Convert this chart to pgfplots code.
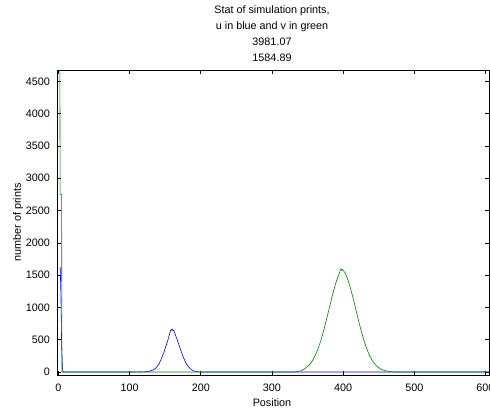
\documentclass[border=0pt]{standalone}
\usepackage{pgfplots}
\pgfplotsset{compat=1.18}
\usepackage{fontspec}
\setmainfont{Liberation Sans}
\definecolor{mgreen}{RGB}{0,128,0}
\definecolor{mblue}{RGB}{0,0,255}
\begin{document}
\begin{tikzpicture}[font=\fontsize{10.8}{13}\selectfont]
\useasboundingbox (-57pt,-37pt) rectangle (433pt,375pt);
\begin{axis}[
  at={(0pt,0pt)}, anchor=south west,
  scale only axis, width=432pt, height=305pt,
  xmin=-2, xmax=605, ymin=-46, ymax=4675,
  xtick={0,100,...,600}, ytick={0,500,...,4500},
  tick pos=both, tick align=inside, major tick length=4pt,
  axis line style={line width=0.7pt, black},
  every tick/.style={black, line width=0.6pt},
  /pgf/number format/assume math mode=true,
  /pgf/number format/1000 sep={},
  xticklabel style={anchor=base, inner sep=0pt, yshift=-17pt},
  yticklabel style={anchor=east, inner sep=0pt, xshift=-7pt},
  clip=true,
]
\addplot[mblue, line width=0.6pt] coordinates {
(2.5,1620)(3.5,1200)(4.5,420)(5.5,80)(6.5,0)(105,0)(110,2)(115,0)(120,3)(124,5)(127,9)(130,22)(133,31)(136,52)(139,90)(142,140)(145,215)(148,300)(151,400)(154,500)(156,580)(157,620)(158,655)(159,650)(160,665)(161,640)(162,645)(164,585)(167,500)(170,400)(173,305)(176,215)(179,143)(182,92)(185,53)(188,29)(191,15)(194,7)(197,3)(200,0)(605,0)
};
\addplot[mgreen, line width=0.6pt] coordinates {
(2,4670)(2.5,2750)(4.5,2750)(5,0)(330,0)(334,6)(338,12)(341,20)(345,45)(349,74)(353,117)(357,177)(361,259)(365,366)(369,498)(373,654)(377,828)(381,1010)(385,1189)(389,1350)(391,1420)(393,1479)(395,1540)(396,1570)(397,1595)(398,1575)(399,1590)(401,1561)(403,1530)(405,1479)(409,1350)(413,1189)(417,1010)(421,828)(425,654)(429,498)(433,366)(437,259)(441,177)(445,117)(449,74)(453,45)(457,27)(461,15)(465,8)(469,3)(473,0)(605,0)
};
\end{axis}
\node[anchor=base] at (215pt,361pt) {Stat of simulation prints,};
\node[anchor=base] at (215pt,345pt) {u in blue and v in green};
\node[anchor=base] at (215pt,329pt) {3981.07};
\node[anchor=base] at (215pt,313pt) {1584.89};
\node[anchor=base] at (215pt,-32pt) {Position};
\node[rotate=90] at (-39pt,152.5pt) {number of prints};
\end{tikzpicture}
\end{document}
